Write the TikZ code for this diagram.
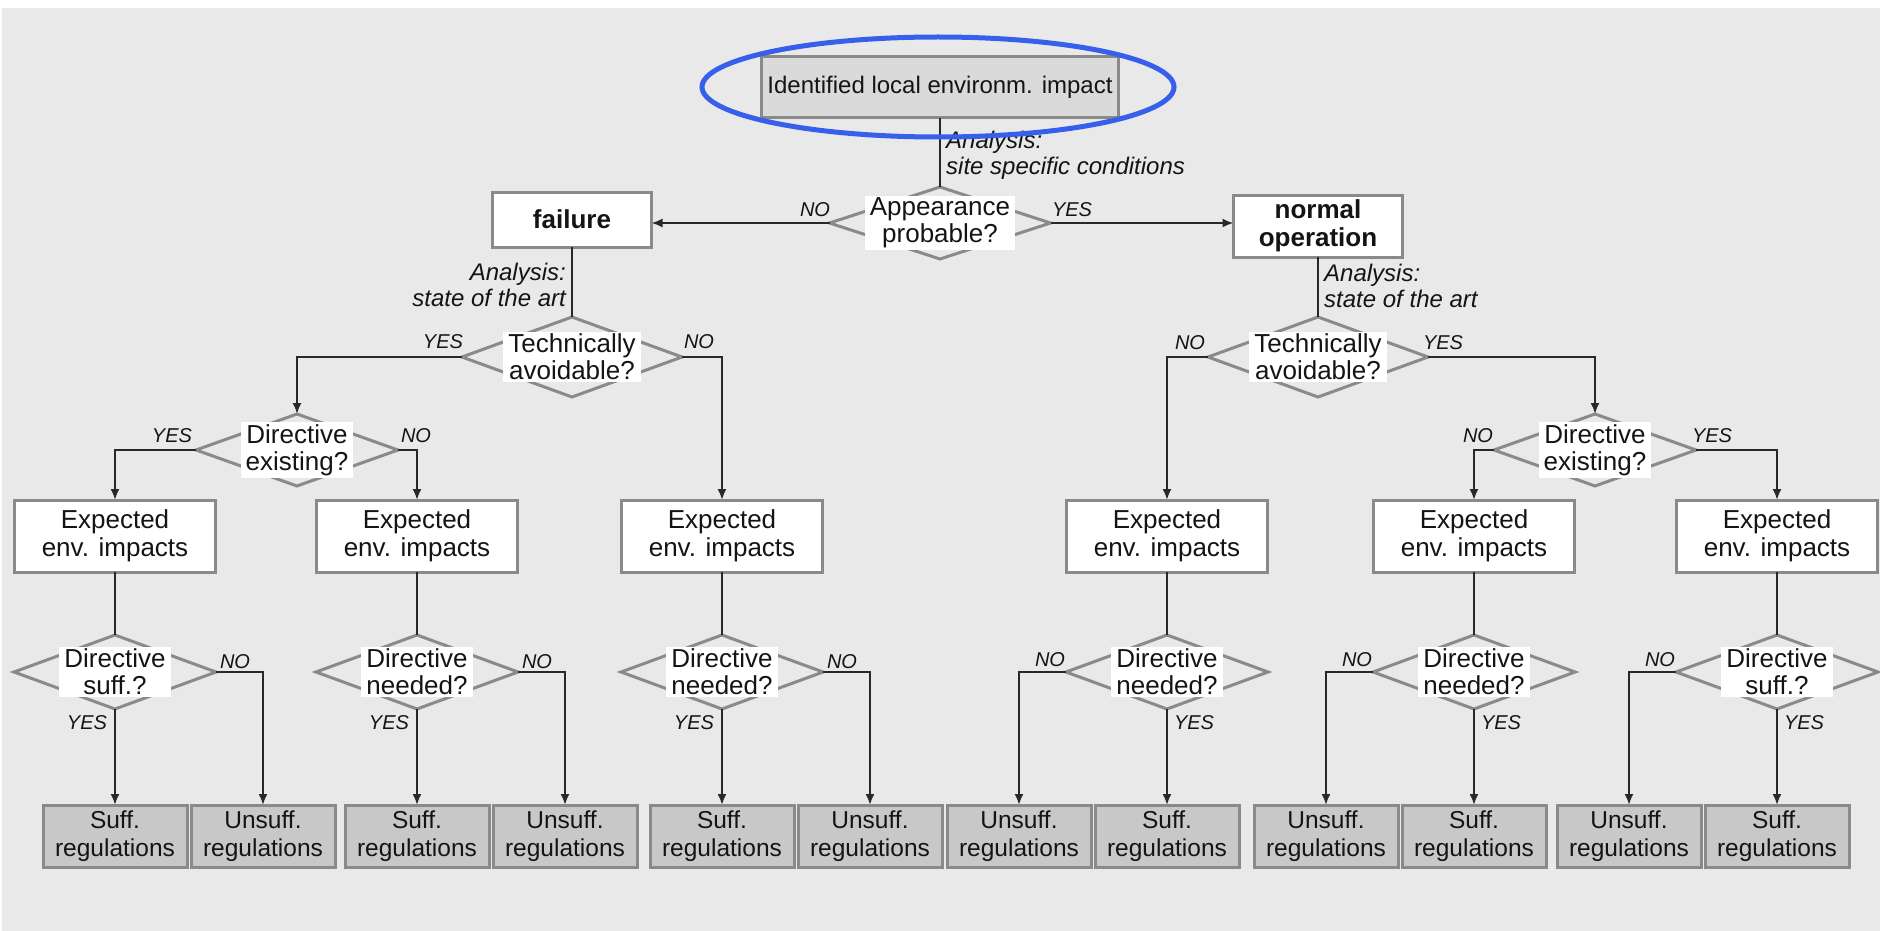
\documentclass[tikz,border=0pt]{standalone}
\usepackage{fontspec}
\setmainfont{Liberation Sans}
\usetikzlibrary{shapes.geometric,arrows.meta,calc}

\definecolor{bg}{RGB}{233,233,233}
\definecolor{frame}{RGB}{138,138,138}
\definecolor{ink}{RGB}{20,20,20}
\definecolor{wire}{RGB}{40,40,40}
\definecolor{startfill}{RGB}{218,218,218}
\definecolor{endfill}{RGB}{200,200,200}
\definecolor{ring}{RGB}{55,95,235}

\tikzset{
  box/.style={draw=frame, line width=3pt, fill=white, rectangle, inner sep=0pt,
    outer sep=0pt, align=center, text=ink, font=\fontsize{26}{28}\selectfont},
  startbox/.style={box, fill=startfill, font=\fontsize{24}{26}\selectfont,
    minimum width=357, minimum height=61},
  casebox/.style={box, font=\bfseries\fontsize{26}{28}\selectfont},
  expbox/.style={box, minimum width=201, minimum height=72},
  regbox/.style={box, fill=endfill, minimum width=144, minimum height=62,
    font=\fontsize{24.5}{28}\selectfont},
  decision/.style={diamond, draw=frame, line width=3pt, fill=bg, inner sep=0pt,
    outer sep=0pt},
  qtext/.style={fill=white, align=center, inner xsep=5pt, inner ysep=2pt,
    text=ink, font=\fontsize{26}{27}\selectfont},
  ans/.style={font=\itshape\fontsize{20}{22}\selectfont, text=ink, inner sep=0pt},
  note/.style={font=\itshape\fontsize{24}{26}\selectfont, text=ink, inner sep=0pt},
  link/.style={draw=wire, line width=2pt},
  flow/.style={link, -{Latex[length=11pt,width=9pt]}},
}

\begin{document}
\begin{tikzpicture}[x=1pt,y=-1pt]
\useasboundingbox (0,0) rectangle (1880,931);
\fill[white] (0,0) rectangle (1880,931);
\fill[bg] (2,8) rectangle (1880,931);

% start and first decision
\node[startbox] (top) at (940,87.5) {Identified local environm. impact};
\node[decision, minimum width=221, minimum height=72] (app) at (940,223) {};
\node[qtext] (appt) at (940,223) {Appearance\\probable?};
\node[note, anchor=west, align=left] (noteTop) at (946,155) {Analysis:\\site specific conditions};
\draw[link] (top) -- (app);

% the two cases
\node[casebox, minimum width=159, minimum height=55] (fail) at (572,219.5) {failure};
\node[casebox, minimum width=169, minimum height=62] (norm) at (1318,226) {normal\\operation};
\draw[flow] (app.west) -- (app.west -| fail.east);
\draw[flow] (app.east) -- (app.east -| norm.west);
\node[ans] (aNo) at (815,210) {NO};
\node[ans] (aYes) at (1072,210) {YES};

% technical avoidability
\node[decision, minimum width=220, minimum height=80] (techL) at (572,357) {};
\node[qtext] (techLt) at (572,357) {Technically\\avoidable?};
\node[decision, minimum width=220, minimum height=80] (techR) at (1318,357) {};
\node[qtext] (techRt) at (1318,357) {Technically\\avoidable?};
\node[note, anchor=east, align=right] (noteL) at (566,285) {Analysis:\\state of the art};
\node[note, anchor=west, align=left] (noteR) at (1324,286) {Analysis:\\state of the art};
\draw[link] (fail) -- (techL);
\draw[link] (norm) -- (techR);
\node[ans] (tLYes) at (443,342) {YES};
\node[ans] (tLNo) at (699,342) {NO};
\node[ans] (tRNo) at (1190,343) {NO};
\node[ans] (tRYes) at (1443,343) {YES};

% existing directive
\node[decision, minimum width=202, minimum height=72] (dirL) at (297,450) {};
\node[qtext] (dirLt) at (297,450) {Directive\\existing?};
\node[decision, minimum width=202, minimum height=72] (dirR) at (1595,450) {};
\node[qtext] (dirRt) at (1595,450) {Directive\\existing?};
\node[ans] (eLYes) at (172,436) {YES};
\node[ans] (eLNo) at (416,436) {NO};
\node[ans] (eRNo) at (1478,436) {NO};
\node[ans] (eRYes) at (1712,436) {YES};

% expected impacts, final decision and regulations, left branch
\foreach \i/\cx/\q in {1/115/{suff.?},2/417/{needed?},3/722/{needed?}} {
  \node[expbox] (e\i) at (\cx,536) {Expected\\env. impacts};
  \node[decision, minimum width=202, minimum height=74] (d\i) at (\cx,672) {};
  \node[qtext] (dt\i) at (\cx,672) {Directive\\\q};
  \node[regbox] (s\i) at (\cx,836) {Suff.\\regulations};
  \node[regbox] (u\i) at (\cx+148,836) {Unsuff.\\regulations};
  \node[ans] (no\i) at (\cx+120,662) {NO};
  \node[ans] (yes\i) at (\cx-28,723) {YES};
  \draw[link] (e\i) -- (d\i);
  \draw[flow] (d\i.south) -- (s\i.north);
  \draw[flow] (d\i.east) -| (u\i.north);
}

% expected impacts, final decision and regulations, right branch
\foreach \i/\cx/\q in {4/1167/{needed?},5/1474/{needed?},6/1777/{suff.?}} {
  \node[expbox] (e\i) at (\cx,536) {Expected\\env. impacts};
  \node[decision, minimum width=202, minimum height=74] (d\i) at (\cx,672) {};
  \node[qtext] (dt\i) at (\cx,672) {Directive\\\q};
  \node[regbox] (s\i) at (\cx,836) {Suff.\\regulations};
  \node[regbox] (u\i) at (\cx-148,836) {Unsuff.\\regulations};
  \node[ans] (no\i) at (\cx-117,660) {NO};
  \node[ans] (yes\i) at (\cx+27,723) {YES};
  \draw[link] (e\i) -- (d\i);
  \draw[flow] (d\i.south) -- (s\i.north);
  \draw[flow] (d\i.west) -| (u\i.north);
}

% branches between the decisions
\draw[flow] (techL.west) -| (dirL.north);
\draw[flow] (techL.east) -| (e3.north);
\draw[flow] (dirL.west) -| (e1.north);
\draw[flow] (dirL.east) -| (e2.north);
\draw[flow] (techR.west) -| (e4.north);
\draw[flow] (techR.east) -| (dirR.north);
\draw[flow] (dirR.west) -| (e5.north);
\draw[flow] (dirR.east) -| (e6.north);

% highlight around the starting point
\draw[ring, line width=5pt] (938,87) ellipse [x radius=236pt, y radius=50pt];
\end{tikzpicture}
\end{document}
